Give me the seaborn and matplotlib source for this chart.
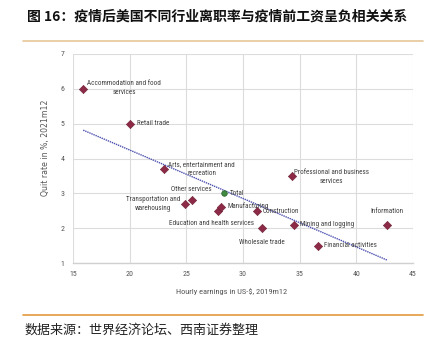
import matplotlib
matplotlib.use("Agg")
import matplotlib.pyplot as plt
import seaborn as sns
import pandas as pd
from matplotlib.lines import Line2D
from matplotlib import font_manager

industries = ["Accommodation and food\nservices", "Retail trade", "Arts, entertainment and\nrecreation",
              "Transportation and\nwarehousing", "Other services", "Education and health services",
              "Manufacturing", "Construction", "Wholesale trade", "Professional and business\nservices",
              "Mining and logging", "Financial activities", "Information"]
hourly_earnings = [15.9, 20.0, 23.0, 24.9, 25.5, 27.8, 28.1, 31.2, 31.7, 34.3, 34.5, 36.6, 42.7]
quit_rate = [6.0, 5.0, 3.7, 2.7, 2.8, 2.5, 2.6, 2.5, 2.0, 3.5, 2.1, 1.5, 2.1]
total_label = "Total"
total_earnings = [28.3]
total_quit = [3.0]
x_ticks = [15, 20, 25, 30, 35, 40, 45]
y_ticks = [1, 2, 3, 4, 5, 6, 7]

# label placement (offset pixels, alignment)
offsets = [(41, 1, "center"), (7, 0, "left"), (38, 0, "center"), (-32, 0, "center"), (-1, 11, "center"),
           (-7, -13, "center"), (6, 1, "left"), (6, -1, "left"), (0, -14, "center"), (40, -1, "center"),
           (6, 0, "left"), (6, 0, "left"), (0, 13, "center")]

installed = {f.name for f in font_manager.fontManager.ttflist}
narrow = next((f for f in ["Liberation Sans Narrow", "DejaVu Sans Condensed", "Roboto Condensed",
                           "Open Sans Condensed", "Roboto"] if f in installed), "DejaVu Sans")
narrow_size = 5.1 if narrow != "Roboto" else 4.6

sns.set_theme(style="white")
plt.rcParams['font.family'] = [narrow, 'DejaVu Sans']

df = pd.DataFrame({"earn": hourly_earnings, "quit": quit_rate, "name": industries})
tot = pd.DataFrame({"earn": total_earnings, "quit": total_quit})

W, H = 439, 342
fig = plt.figure(figsize=(W / 100, H / 100), dpi=100)
ax = fig.add_axes([73 / W, 1 - 263 / H, 340 / W, 209 / H])

sns.regplot(data=df, x="earn", y="quit", ci=None, scatter=False, ax=ax,
            line_kws=dict(color="#4b4fae", lw=1.0, ls=(0, (1, 0.6))))
sns.scatterplot(data=df, x="earn", y="quit", marker="D", s=18, color="#8c2a47",
                edgecolor="#6e1f36", linewidth=0.4, ax=ax, zorder=3)
sns.scatterplot(data=tot, x="earn", y="quit", marker="o", s=16, color="#3f8a3f",
                edgecolor="#2a5f2a", linewidth=0.5, ax=ax, zorder=3)

for xv, yv, name, (dx, dy, ha) in zip(hourly_earnings, quit_rate, industries, offsets):
    ax.annotate(name, (xv, yv), xytext=(dx, dy), textcoords="offset pixels",
                ha=ha, va="center", fontsize=narrow_size, color="#404040", linespacing=1.35)
ax.annotate(total_label, (total_earnings[0], total_quit[0]), xytext=(6, 0), textcoords="offset pixels",
            ha="left", va="center", fontsize=narrow_size, color="#404040")

ax.set_xlim(15, 45)
ax.set_ylim(1, 7)
ax.set_xticks(x_ticks)
ax.set_yticks(y_ticks)
ax.grid(True, color="#dcdcdc", lw=0.8)
ax.set_axisbelow(True)
for s in ["left", "right", "top"]:
    ax.spines[s].set_visible(False)
ax.spines["bottom"].set_color("#d0d0d0")
ax.spines["bottom"].set_linewidth(1.0)
ax.tick_params(axis="both", length=0, labelsize=5.7, labelcolor="#555555", pad=6)
ax.set_xlabel("Hourly earnings in US-$, 2019m12", fontsize=6.0, color="#555555", labelpad=8)
ax.xaxis.label.set_x((232 - 73) / 340)
ax.set_ylabel("Quit rate in %, 2021m12", fontsize=5.6, color="#555555", labelpad=8,
              family=["DejaVu Sans"])
ax.yaxis.label.set_y((263 - 148) / 209)

fig.text(27 / W, 1 - 17 / H, "图 16：疫情后美国不同行业离职率与疫情前工资呈负相关关系",
         fontsize=10, fontweight="bold", ha="left", va="center",
         family=["Noto Sans CJK SC", "DejaVu Sans"], color="#111111")
fig.add_artist(Line2D([23 / W, 423 / W], [1 - 40.5 / H, 1 - 40.5 / H], color="#e6c79a", lw=1.2))
fig.add_artist(Line2D([23 / W, 423 / W], [1 - 315 / H, 1 - 315 / H], color="#e39a3c", lw=1.2))
fig.text(25 / W, 1 - 330 / H, "数据来源：世界经济论坛、西南证券整理", fontsize=9.4, ha="left", va="center",
         family=["Noto Sans CJK SC", "DejaVu Sans"], color="#222222", style="italic")

fig.savefig("out.png", dpi=100)
